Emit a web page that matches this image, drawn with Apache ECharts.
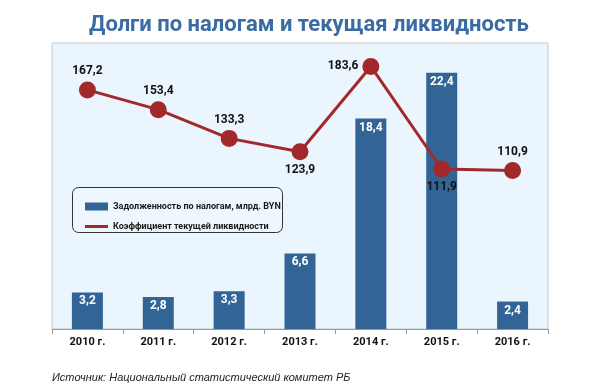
<!DOCTYPE html>
<html>
<head>
<meta charset="utf-8">
<script src="https://cdn.jsdelivr.net/npm/echarts@6/dist/echarts.min.js"></script>
<style>
html,body{margin:0;padding:0;background:#fff;}
#chart{width:600px;height:392px;}
</style>
</head>
<body>
<div id="chart"></div>
<script>
var categories = ['2010 г.', '2011 г.', '2012 г.', '2013 г.', '2014 г.', '2015 г.', '2016 г.'];
var debtValues = [3.2, 2.8, 3.3, 6.6, 18.4, 22.4, 2.4];
var liquidityValues = [167.2, 153.4, 133.3, 123.9, 183.6, 111.9, 110.9];
var liquidityLabelPos = ['top', 'top', 'top', 'bottom', 'left', 'bottom', 'top'];
var debtName = 'Задолженность по налогам, млрд. BYN';
var liquidityName = 'Коэффициент текущей ликвидности';
var titleText = 'Долги по налогам и текущая ликвидность';
var sourceText = 'Источник: Национальный статистический комитет РБ';

var FONT = 'Roboto, "Liberation Sans", sans-serif';
function fmt(v) { return String(v).replace('.', ','); }

var chart = echarts.init(document.getElementById('chart'), null, {renderer: 'canvas'});
var option = {
  backgroundColor: '#ffffff',
  animation: false,
  title: {
    text: titleText,
    left: 84,
    top: 9,
    textStyle: {fontFamily: FONT, fontWeight: 'bold', fontSize: 22, color: '#3a6ba3'}
  },
  grid: {
    left: 52, right: 52, top: 43, bottom: 63,
    show: true, backgroundColor: '#eaf5fd', borderColor: '#c4c8cc', borderWidth: 1
  },
  legend: [{
    data: [{name: debtName, icon: 'rect'}],
    left: 80, top: 197, itemWidth: 23, itemHeight: 8, itemGap: 9, z: 10,
    textStyle: {fontFamily: FONT, fontWeight: 'bold', fontSize: 9, color: '#1a1a1a'}
  }, {
    data: [{name: liquidityName, icon: 'rect'}],
    left: 80, top: 217, itemWidth: 23, itemHeight: 3, itemGap: 9, z: 10,
    textStyle: {fontFamily: FONT, fontWeight: 'bold', fontSize: 9, color: '#1a1a1a'}
  }],
  graphic: [{
    type: 'rect', left: 72, top: 187, z: 1,
    shape: {width: 210, height: 45, r: 6},
    style: {fill: '#eef7fd', stroke: '#333333', lineWidth: 1}
  }, {
    type: 'text', left: 52, top: 372,
    style: {text: sourceText, font: 'italic 11px "Liberation Sans", Arial, sans-serif', fill: '#222222'}
  }],
  xAxis: {
    type: 'category', data: categories,
    axisLine: {show: true, lineStyle: {color: '#9a9a9a', width: 1}},
    axisTick: {show: true, length: 5, lineStyle: {color: '#9a9a9a'}},
    axisLabel: {fontFamily: FONT, fontWeight: 'bold', fontSize: 11, color: '#111', margin: 8}
  },
  yAxis: [{
    type: 'value', min: 0, max: 25, show: false, splitLine: {show: false}
  }, {
    type: 'value', min: 0, max: 200, show: false, splitLine: {show: false}
  }],
  series: [{
    name: debtName, type: 'bar', yAxisIndex: 0, data: debtValues,
    barWidth: 31, z: 2,
    itemStyle: {color: '#336496'},
    label: {
      show: true, position: 'insideTop', distance: 3,
      formatter: function (p) { return fmt(p.value); },
      fontFamily: FONT, fontWeight: 'bold', fontSize: 12, color: '#ffffff'
    }
  }, {
    name: liquidityName, type: 'line', yAxisIndex: 1,
    data: liquidityValues.map(function (v, i) {
      return {value: v, label: {position: liquidityLabelPos[i]}};
    }),
    symbol: 'circle', symbolSize: 17, z: 3,
    lineStyle: {color: '#a3282b', width: 3},
    itemStyle: {color: '#a3282b'},
    label: {
      show: true, distance: 4,
      formatter: function (p) { return fmt(p.value); },
      fontFamily: FONT, fontWeight: 'bold', fontSize: 12, color: '#111111'
    }
  }]
};
chart.setOption(option);
</script>
</body>
</html>
